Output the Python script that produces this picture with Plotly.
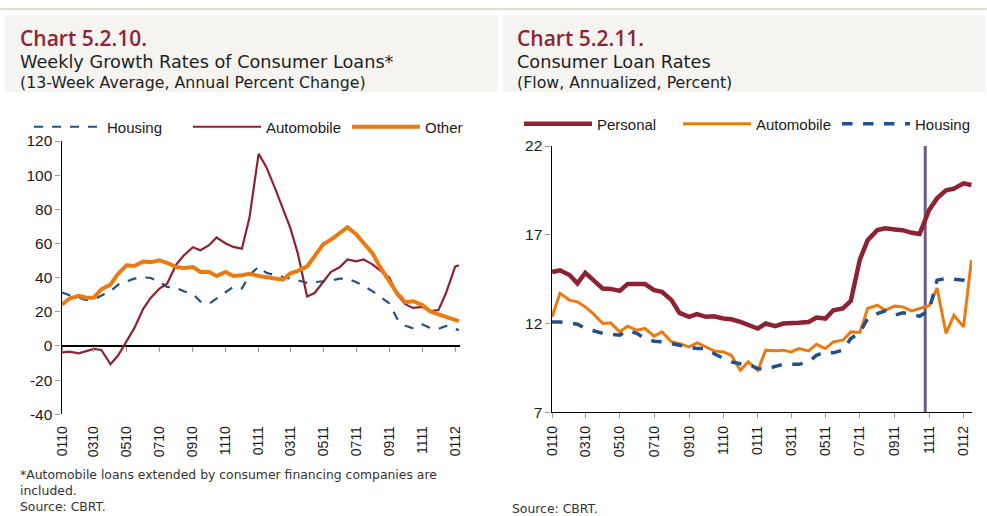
import pandas as pd
import plotly.graph_objects as go

# ---------------- data ----------------
tick_vals = ["2010-01-01", "2010-03-01", "2010-05-01", "2010-07-01", "2010-09-01", "2010-11-01",
             "2011-01-01", "2011-03-01", "2011-05-01", "2011-07-01", "2011-09-01", "2011-11-01",
             "2012-01-01"]
tick_text = ["0110", "0310", "0510", "0710", "0910", "1110",
             "0111", "0311", "0511", "0711", "0911", "1111", "0112"]
growth_ticks = [-40, -20, 0, 20, 40, 60, 80, 100, 120]
rate_ticks = [7, 12, 17, 22]

# semi-monthly reading grid
dates_left = [d.strftime("%Y-%m-%d") for d in pd.date_range("2010-01-01", "2012-01-01", freq="SMS")] + ["2012-01-08"]
dates_right = [d.strftime("%Y-%m-%d") for d in pd.date_range("2010-01-01", "2012-01-15", freq="SMS")]

# Chart 5.2.10 – weekly growth rates (13-week avg, annual % change)
housing_growth = [31.3, 29.7, 28.3, 26.8, 27.4, 29.3, 32.0, 35.9, 37.9, 39.4,
                  40.2, 39.8, 37.5, 34.6, 34.0, 32.0, 30.5, 26.0, 24.7, 27.8,
                  31.7, 34.6, 33.6, 41.4, 46.5, 42.9, 41.4, 40.4, 39.8, 38.4,
                  36.9, 37.5, 37.9, 38.3, 39.4, 39.4, 37.5, 35.1, 32.0, 28.7,
                  24.9, 16.1, 11.8, 10.3, 12.6, 10.7, 10.0, 11.7, 10.3, 9.3]
auto_growth = [-3.7, -3.3, -4.3, -2.9, -1.7, -2.3, -10.7, -5.6, 2.9, 10.3,
               21.9, 28.3, 33.6, 36.5, 47.6, 53.0, 57.8, 56.0, 59.0, 63.5,
               60.0, 58.0, 57.0, 75.0, 112.5, 105.0, 92.0, 80.6, 69.0, 54.0,
               29.0, 31.0, 37.9, 43.3, 46.2, 50.7, 49.5, 50.7, 47.6, 44.3,
               40.0, 30.1, 24.3, 22.3, 22.9, 20.4, 21.0, 31.0, 46.5, 47.2]
other_growth = [24.3, 27.8, 29.3, 28.2, 28.2, 33.2, 35.9, 42.3, 47.2, 46.8,
                49.5, 49.1, 50.1, 48.7, 46.2, 45.6, 46.2, 43.3, 43.3, 41.0,
                43.3, 41.0, 41.4, 42.3, 41.0, 40.4, 39.6, 38.8, 42.5, 44.0,
                46.5, 53.0, 59.5, 62.2, 66.5, 69.5, 65.4, 60.5, 54.0, 46.0,
                38.0, 31.0, 25.6, 26.2, 24.0, 20.4, 18.5, 17.0, 15.3, 14.6]

# Chart 5.2.11 – consumer loan rates (flow, annualized, %)
personal_rate = [14.9, 15.0, 14.73, 14.26, 14.86, 14.44, 13.97, 13.95, 13.84, 14.22,
                 14.22, 14.22, 13.88, 13.79, 13.32, 12.6, 12.38, 12.53, 12.38, 12.41,
                 12.28, 12.24, 12.09, 11.94, 11.72, 12.0, 11.85, 12.0, 12.0, 12.04,
                 12.09, 12.34, 12.28, 12.75, 12.85, 13.28, 15.6, 16.7, 17.26, 17.36,
                 17.3, 17.26, 17.11, 17.04, 18.4, 19.05, 19.5, 19.6, 19.9, 19.8]
auto_rate = [12.38, 13.7, 13.32, 13.22, 12.94, 12.56, 12.0, 12.04, 11.53, 11.85,
             11.62, 11.72, 11.29, 11.53, 10.97, 10.87, 10.68, 10.91, 10.68, 10.46,
             10.4, 10.21, 9.37, 9.84, 9.37, 10.5, 10.46, 10.5, 10.4, 10.59,
             10.46, 10.83, 10.59, 10.97, 11.06, 11.53, 11.5, 12.85, 13.03, 12.75,
             12.98, 12.94, 12.71, 12.85, 13.0, 14.0, 11.44, 12.47, 11.81, 15.57]
housing_rate = [12.09, 12.09, 12.04, 11.96, 11.72, 11.59, 11.44, 11.4, 11.34, 11.62,
                11.44, 11.15, 11.0, 10.97, 10.87, 10.78, 10.65, 10.59, 10.59, 10.31,
                10.03, 9.84, 9.74, 9.7, 9.46, 9.41, 9.59, 9.7, 9.7, 9.7,
                9.84, 10.21, 10.4, 10.35, 10.5, 11.15, 11.5, 12.28, 12.56, 12.71,
                12.47, 12.6, 12.53, 12.41, 12.75, 14.44, 14.54, 14.48, 14.44, 14.26]
policy_date = "2011-10-25"

# ---------------- style ----------------
RED = "#8C2232"
ORANGE = "#EB7A10"
BLUE = "#22508A"
PURPLE = "#6E5A8E"
TITLE_RED = "#8E2433"
W, H = 987, 516
TICK_FONT = dict(family="Liberation Sans, Arial, sans-serif", size=15.5, color="#1a1a1a")
XTICK_FONT = dict(family="Liberation Sans, Arial, sans-serif", size=14, color="#1a1a1a")
LEG_FONT = dict(family="Liberation Sans, Arial, sans-serif", size=15, color="#1a1a1a")


def px_x(p):
    return p / W


def px_y(p):
    return 1 - p / H


fig = go.Figure()

# left chart
fig.add_trace(go.Scatter(x=dates_left, y=housing_growth, name="Housing", mode="lines",
                         line=dict(color=BLUE, width=2.2, dash="dash"), xaxis="x", yaxis="y", legend="legend"))
fig.add_trace(go.Scatter(x=dates_left, y=auto_growth, name="Automobile", mode="lines",
                         line=dict(color=RED, width=2.2), xaxis="x", yaxis="y", legend="legend"))
fig.add_trace(go.Scatter(x=dates_left, y=other_growth, name="Other", mode="lines",
                         line=dict(color=ORANGE, width=4), xaxis="x", yaxis="y", legend="legend"))
# helper trace for the tick axis sitting on the zero line
fig.add_trace(go.Scatter(x=[dates_left[0]], y=[None], xaxis="x3", yaxis="y", showlegend=False,
                         hoverinfo="skip"))

# right chart
fig.add_trace(go.Scatter(x=[policy_date, policy_date], y=[7, 22], mode="lines", showlegend=False,
                         line=dict(color=PURPLE, width=3), xaxis="x2", yaxis="y2"))
fig.add_trace(go.Scatter(x=dates_right, y=personal_rate, name="Personal", mode="lines",
                         line=dict(color=RED, width=4.5), xaxis="x2", yaxis="y2", legend="legend2"))
fig.add_trace(go.Scatter(x=dates_right, y=auto_rate, name="Automobile", mode="lines",
                         line=dict(color=ORANGE, width=3), xaxis="x2", yaxis="y2", legend="legend2"))
fig.add_trace(go.Scatter(x=dates_right, y=housing_rate, name="Housing", mode="lines",
                         line=dict(color=BLUE, width=3.5, dash="dash"), xaxis="x2", yaxis="y2", legend="legend2"))

L_dom_y = [px_y(414.3), px_y(141)]
R_dom_y = [px_y(412.3), px_y(146)]
ymin_l, ymax_l = -40, 120
zero_pos = L_dom_y[0] + (0 - ymin_l) / (ymax_l - ymin_l) * (L_dom_y[1] - L_dom_y[0])

common_x = dict(type="date", tickvals=tick_vals, ticktext=tick_text, tickangle=-90,
                tickfont=XTICK_FONT, showgrid=False, zeroline=False)

fig.update_layout(
    width=W, height=H, autosize=False, margin=dict(l=0, r=0, t=0, b=0, autoexpand=False),
    paper_bgcolor="white", plot_bgcolor="rgba(0,0,0,0)",
    xaxis=dict(domain=[px_x(61.5), px_x(460)], range=["2009-12-31", "2012-01-10"], anchor="y",
               ticks="", showline=False, ticklabelstandoff=8, **common_x),
    xaxis3=dict(overlaying="x", matches="x", anchor="free", position=zero_pos, type="date",
                tickvals=tick_vals, showticklabels=False, ticks="outside", ticklen=5,
                tickcolor="#9a9a9a", tickwidth=1, showline=False, showgrid=False, zeroline=False),
    yaxis=dict(domain=L_dom_y, range=[ymin_l, ymax_l], anchor="x",
               tickvals=growth_ticks, ticktext=[str(v) for v in growth_ticks],
               showline=True, linecolor="black", linewidth=1.2, ticks="outside", ticklen=5,
               tickcolor="#9a9a9a", showgrid=False, zeroline=True, zerolinecolor="black",
               zerolinewidth=1.5, tickfont=TICK_FONT),
    xaxis2=dict(domain=[px_x(551.5), px_x(972)], range=["2009-12-31", "2012-01-16"], anchor="y2",
                ticks="outside", ticklen=5, tickcolor="#9a9a9a", showline=True, linecolor="black",
                linewidth=1.2, ticklabelstandoff=2, **common_x),
    yaxis2=dict(domain=R_dom_y, range=[7, 22], anchor="x2",
                tickvals=rate_ticks, ticktext=[str(v) for v in rate_ticks],
                showline=True, linecolor="black", linewidth=1.2, ticks="outside", ticklen=5,
                tickcolor="#9a9a9a", showgrid=False, zeroline=False, tickfont=TICK_FONT),
    legend=dict(orientation="h", x=px_x(29), y=px_y(127), xanchor="left", yanchor="middle",
                font=LEG_FONT, bgcolor="rgba(0,0,0,0)", entrywidthmode="pixels",
                entrywidth=76, itemwidth=68),
    legend2=dict(orientation="h", x=px_x(519), y=px_y(124), xanchor="left", yanchor="middle",
                 font=LEG_FONT, bgcolor="rgba(0,0,0,0)", entrywidthmode="pixels",
                 entrywidth=76, itemwidth=68),
    showlegend=True,
)

# title panels and top rule
shapes = [
    dict(type="line", xref="paper", yref="paper", x0=0, x1=1, y0=px_y(9), y1=px_y(9),
         line=dict(color="#D8D3C8", width=1.5)),
    dict(type="rect", xref="paper", yref="paper", x0=px_x(5), x1=px_x(498), y0=px_y(92), y1=px_y(15),
         fillcolor="#F5F4F0", line=dict(width=0), layer="below"),
    dict(type="rect", xref="paper", yref="paper", x0=px_x(503), x1=px_x(985), y0=px_y(92), y1=px_y(15),
         fillcolor="#F5F4F0", line=dict(width=0), layer="below"),
]
fig.update_layout(shapes=shapes)


def ann(text, x, y, size, color="#1f1f1f", family="DejaVu Sans, sans-serif", weight="normal",
        yanchor="middle"):
    return dict(text=text, x=px_x(x), y=px_y(y), xref="paper", yref="paper", xanchor="left",
                yanchor=yanchor, showarrow=False, align="left",
                font=dict(family=family, size=size, color=color, weight=weight))


OPEN = "Open Sans, sans-serif"
annotations = [
    ann("Chart 5.2.10.", 18, 38, 21, TITLE_RED, family=OPEN, weight=600),
    ann("Weekly Growth Rates of Consumer Loans*", 18, 62, 17.7),
    ann("(13-Week Average, Annual Percent Change)", 18, 82, 15.8),
    ann("Chart 5.2.11.", 515, 38, 21, TITLE_RED, family=OPEN, weight=600),
    ann("Consumer Loan Rates", 515, 62, 17.7),
    ann("(Flow, Annualized, Percent)", 515, 82, 15.8),
    ann("*Automobile loans extended by consumer financing companies are<br>included.<br>Source: CBRT.",
        18, 516, 12.4, "#333333", yanchor="bottom"),
    ann("Source: CBRT.", 510, 508, 12.4, "#333333"),
]
fig.update_layout(annotations=annotations)

fig.write_html("out.html", default_width=f"{W}px", default_height=f"{H}px",
               config={"responsive": False})
